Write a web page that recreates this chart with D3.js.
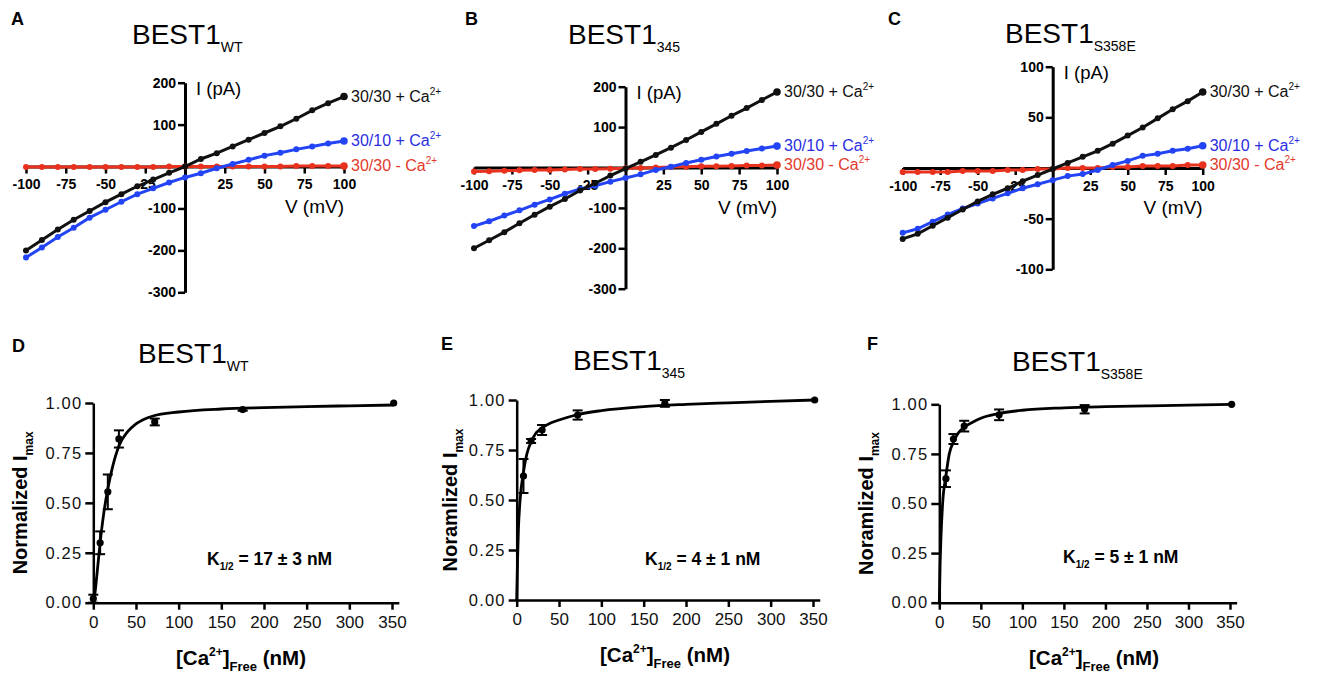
<!DOCTYPE html>
<html>
<head>
<meta charset="utf-8">
<script src="https://cdn.jsdelivr.net/npm/d3@7"></script>
<style>
  body { margin: 0; background: #fff; }
  svg { display: block; font-family: "Liberation Sans", Arial, sans-serif; }
</style>
</head>
<body>
<svg id="fig" width="1325" height="673"></svg>
<script>
// ---- I-V curves (pA vs mV) ----
const voltages = [-100, -90, -80, -70, -60, -50, -40, -30, -20, -10, 0, 10, 20, 30, 40, 50, 60, 70, 80, 90, 100]
const ivXTicks = [-100, -75, -50, -25, 25, 50, 75, 100]

const wtCa30 = [-200, -175, -150, -127, -106, -85, -66, -47, -31, -15, 0, 18, 32, 48, 64, 80, 96, 114, 134, 151, 167]
const wtCa10 = [-217, -193, -168, -146, -122, -103, -84, -66, -52, -38, -26, -16, -4, 6, 16, 26, 33, 41, 48, 55, 61]
const wtNoCa = [-1, -1, -1, -1, -1, -1, -1, -1, -1, 0, 0, 0, 0, 0, 0, 0, 0, 1, 1, 1, 1]

const b345Ca30 = [-200, -180, -160, -138, -117, -97, -78, -57, -39, -20, -3, 14, 31, 49, 68, 88, 108, 128, 147, 167, 187]
const b345Ca10 = [-145, -133, -119, -106, -92, -79, -65, -53, -45, -35, -26, -17, -6, 2, 11, 19, 27, 34, 41, 47, 53]
const b345NoCa = [-10, -9, -8, -7, -6, -6, -5, -4, -4, -3, -2, -1, 0, 1, 2, 3, 3, 4, 5, 5, 6]

const s358Ca30 = [-70, -65, -57, -49, -41, -33, -26, -20, -13, -7, -1, 5, 11, 17, 24, 32, 40, 49, 58, 66, 75]
const s358Ca10 = [-64, -60, -53, -46, -40, -35, -30, -25, -20, -16, -12, -8, -6, -2, 3, 7, 12, 14, 17, 19, 22]
const s358NoCa = [-4, -4, -4, -4, -3, -3, -3, -2, -2, -1, -1, 0, 0, 0, 1, 1, 2, 2, 2, 3, 3]

const seriesNames = ['30/30 + Ca', '30/10 + Ca', '30/30 - Ca']

// ---- Ca2+ dose response (normalized Imax vs nM) ----
const caConc = [0, 8, 17, 30, 72, 175, 352]
const caXTicks = [0, 50, 100, 150, 200, 250, 300, 350]
const normTicks = [0, 0.25, 0.5, 0.75, 1]

const wtNorm = [0.02, 0.30, 0.555, 0.82, 0.905, 0.967, 1.0]
const wtErr = [0.02, 0.057, 0.087, 0.043, 0.017, 0.006, 0]
const b345Norm = [null, 0.62, 0.795, 0.85, 0.925, 0.983, 1.0]
const b345Err = [null, 0.085, 0.01, 0.025, 0.023, 0.017, 0]
const s358Norm = [null, 0.625, 0.825, 0.89, 0.947, 0.975, 1.0]
const s358Err = [null, 0.042, 0.025, 0.027, 0.027, 0.021, 0]

// fitted curves
const fitConc = [0, 1, 2, 4, 8, 12, 17, 22, 30, 40, 50, 70, 100, 150, 200, 250, 300, 352]
const wtFit = [0, 0.02, 0.05, 0.13, 0.30, 0.44, 0.57, 0.67, 0.785, 0.855, 0.895, 0.935, 0.955, 0.97, 0.977, 0.982, 0.986, 0.99]
const b345Fit = [0, 0.2, 0.35, 0.5, 0.64, 0.73, 0.79, 0.83, 0.86, 0.885, 0.9, 0.925, 0.947, 0.967, 0.978, 0.986, 0.993, 1.0]
const s358Fit = [0, 0.2, 0.33, 0.5, 0.64, 0.75, 0.81, 0.85, 0.885, 0.91, 0.93, 0.952, 0.97, 0.982, 0.988, 0.992, 0.996, 1.0]

const colors = ['#111111', '#2244f5', '#e8321e']
const labelColors = ['#111111', '#2a2ee0', '#e33a2c']

const svg = d3.select('#fig')

// text with sub / superscript parts
function richText(sel, parts, size) {
  let shift = 0
  parts.forEach(function(p) {
    const small = p.size || size * 0.6
    const target = p.sub ? size * 0.3 : p.sup ? -size * 0.42 : 0
    sel.append('tspan')
      .attr('dy', target - shift)
      .attr('font-size', (p.sub || p.sup) ? small : size)
      .text(p.t)
    shift = target
  })
  return sel
}

function letter(t, x, y) {
  svg.append('text').attr('x', x).attr('y', y).attr('font-size', 18).attr('font-weight', 'bold').text(t)
}

function title(sub, x, y) {
  richText(svg.append('text').attr('x', x).attr('y', y), [{ t: 'BEST1' }, { t: sub, sub: true, size: 14 }], 28)
}

function drawIV(p) {
  const x = d3.scaleLinear().domain([-100, 100]).range([p.x0, p.x1])
  const y = d3.scaleLinear().domain(p.yDomain).range([p.yBottom, p.yTop])
  const g = svg.append('g')

  const xa = g.append('g')
    .attr('transform', `translate(0,${y(0)})`)
    .call(d3.axisBottom(x).tickValues(ivXTicks).tickSize(7).tickSizeOuter(0).tickPadding(6).tickFormat(d => String(d)))
  const ya = g.append('g')
    .attr('transform', `translate(${x(0)},0)`)
    .call(d3.axisLeft(y).tickValues(p.yTicks).tickSize(7).tickSizeOuter(0).tickPadding(2).tickFormat(d => String(d)))
  for (const a of [xa, ya]) {
    a.select('.domain').attr('stroke', '#000').attr('stroke-width', 3)
    a.selectAll('.tick line').attr('stroke', '#000').attr('stroke-width', 2.5)
    a.selectAll('.tick text').attr('fill', '#000').attr('font-size', 14).attr('font-weight', 'bold')
      .attr('font-family', '"Liberation Sans", Arial, sans-serif')
  }

  g.append('text').attr('x', x(0) + 11).attr('y', p.yTop + 12).attr('font-size', 18.5).text('I (pA)')
  g.append('text').attr('x', p.x1).attr('y', y(0) + 46).attr('font-size', 19).attr('text-anchor', 'end').text('V (mV)')

  const line = d3.line().x((d, i) => x(voltages[i])).y(d => y(d))
  // red first, black on top
  for (let s = p.series.length - 1; s >= 0; s--) {
    const vals = p.series[s]
    g.append('path').datum(vals).attr('d', line)
      .attr('fill', 'none').attr('stroke', colors[s]).attr('stroke-width', 3)
    g.selectAll(null).data(vals).enter().append('circle')
      .attr('cx', (d, i) => x(voltages[i])).attr('cy', d => y(d))
      .attr('r', (d, i) => i === vals.length - 1 ? 3.8 : 3)
      .attr('fill', colors[s])
  }
  p.series.forEach(function(vals, s) {
    const t = g.append('text')
      .attr('x', x(100) + 7).attr('y', y(vals[vals.length - 1]) + 5)
      .attr('fill', labelColors[s])
    richText(t, [{ t: seriesNames[s] }, { t: '2+', sup: true, size: 10 }], 16)
  })
}

function drawDose(p) {
  const x = d3.scaleLinear().domain([0, 358]).range([p.x0, p.x0 + (p.x350 - p.x0) * 358 / 350])
  const y = d3.scaleLinear().domain([0, 1]).range([p.y0, p.y1])
  const g = svg.append('g')

  const xa = g.append('g')
    .attr('transform', `translate(0,${p.y0})`)
    .call(d3.axisBottom(x).tickValues(caXTicks).tickSize(7).tickSizeOuter(0).tickPadding(6).tickFormat(d => String(d)))
  const ya = g.append('g')
    .attr('transform', `translate(${p.x0},0)`)
    .call(d3.axisLeft(y).tickValues(normTicks).tickSize(8).tickSizeOuter(0).tickPadding(3).tickFormat(d3.format('.2f')))
  for (const a of [xa, ya]) {
    a.select('.domain').attr('stroke', '#000').attr('stroke-width', 2.5)
    a.selectAll('.tick line').attr('stroke', '#000').attr('stroke-width', 2.5)
    a.selectAll('.tick text').attr('fill', '#111').attr('font-family', '"Liberation Sans", Arial, sans-serif')
  }
  xa.selectAll('.tick text').attr('font-size', 17)
  ya.selectAll('.tick text').attr('font-size', 16.5).attr('letter-spacing', 1.2)

  const curve = d3.line().x((d, i) => x(fitConc[i])).y(d => y(d)).curve(d3.curveMonotoneX)
  g.append('path').datum(p.fit).attr('d', curve)
    .attr('fill', 'none').attr('stroke', '#000').attr('stroke-width', 2.8)

  const pts = caConc.map((c, i) => ({ c: c, v: p.norm[i], e: p.err[i] })).filter(d => d.v !== null)
  const bars = g.selectAll(null).data(pts.filter(d => d.e > 0)).enter().append('g')
    .attr('stroke', '#000').attr('stroke-width', 2)
  bars.append('line').attr('x1', d => x(d.c)).attr('x2', d => x(d.c))
    .attr('y1', d => y(d.v - d.e)).attr('y2', d => y(d.v + d.e))
  bars.append('line').attr('x1', d => x(d.c) - 5).attr('x2', d => x(d.c) + 5)
    .attr('y1', d => y(d.v + d.e)).attr('y2', d => y(d.v + d.e))
  bars.append('line').attr('x1', d => x(d.c) - 5).attr('x2', d => x(d.c) + 5)
    .attr('y1', d => y(d.v - d.e)).attr('y2', d => y(d.v - d.e))
  g.selectAll(null).data(pts).enter().append('circle')
    .attr('cx', d => x(d.c)).attr('cy', d => y(d.v)).attr('r', 3.6).attr('fill', '#000')

  // axis titles
  const yt = g.append('text')
    .attr('transform', `translate(${p.yTitleX},${(p.y0 + p.y1) / 2}) rotate(-90)`)
    .attr('text-anchor', 'middle').attr('font-weight', 'bold')
  richText(yt, [{ t: p.yTitle + ' I' }, { t: 'max', sub: true, size: 12 }], 20)

  const xt = g.append('text').attr('x', p.xTitleX).attr('y', p.y0 + 62)
    .attr('text-anchor', 'middle').attr('font-weight', 'bold')
  richText(xt, [{ t: '[Ca' }, { t: '2+', sup: true, size: 12 }, { t: ']' }, { t: 'Free', sub: true, size: 13 }, { t: ' (nM)' }], 20.5)

  const kt = g.append('text').attr('x', p.kx).attr('y', p.ky).attr('font-weight', 'bold')
  richText(kt, [{ t: 'K' }, { t: '1/2', sub: true, size: 10 }, { t: p.kText }], 17.5)
}

// ---- panels ----
letter('A', 11, 25); title('WT', 132, 44)
drawIV({ x0: 26, x1: 344, yTop: 82.7, yBottom: 292.3, yDomain: [-300, 200], yTicks: [-300, -200, -100, 100, 200],
  series: [wtCa30, wtCa10, wtNoCa] })

letter('B', 465, 25); title('345', 568, 44)
drawIV({ x0: 474, x1: 777, yTop: 86.7, yBottom: 288.7, yDomain: [-300, 200], yTicks: [-300, -200, -100, 100, 200],
  series: [b345Ca30, b345Ca10, b345NoCa] })

letter('C', 888, 25); title('S358E', 1005, 43)
drawIV({ x0: 902.7, x1: 1202.7, yTop: 66.7, yBottom: 269.3, yDomain: [-100, 100], yTicks: [-100, -50, 50, 100],
  series: [s358Ca30, s358Ca10, s358NoCa] })

letter('D', 12, 352); title('WT', 138, 363)
drawDose({ x0: 93.3, x350: 392, y0: 602.7, y1: 403, norm: wtNorm, err: wtErr, fit: wtFit,
  yTitle: 'Normalized', yTitleX: 27, xTitleX: 241, kx: 207, ky: 565, kText: ' = 17 ± 3 nM' })

letter('E', 441, 350); title('345', 573, 370)
drawDose({ x0: 516.7, x350: 813, y0: 600, y1: 400, norm: b345Norm, err: b345Err, fit: b345Fit,
  yTitle: 'Noramlized', yTitleX: 457, xTitleX: 665, kx: 645, ky: 565, kText: ' = 4 ± 1 nM' })

letter('F', 867, 350); title('S358E', 1012, 371)
drawDose({ x0: 939.3, x350: 1230, y0: 602.7, y1: 404.3, norm: s358Norm, err: s358Err, fit: s358Fit,
  yTitle: 'Noramlized', yTitleX: 873, xTitleX: 1094, kx: 1063, ky: 563, kText: ' = 5 ± 1 nM' })
</script>
</body>
</html>
